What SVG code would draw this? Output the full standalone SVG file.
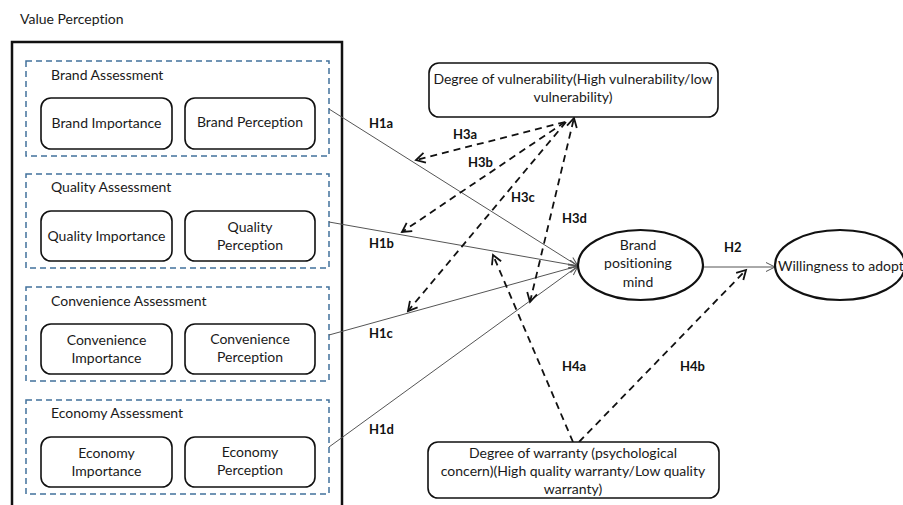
<svg xmlns="http://www.w3.org/2000/svg" width="903" height="505" viewBox="0 0 903 505">
<defs>
<style>
text{font-family:Lato,"Liberation Sans",Arial,sans-serif;font-size:14px;fill:#1a1a1a;font-variant-ligatures:none}
.t{text-anchor:middle}
.lab{font-weight:bold;font-size:13px;fill:#111}
.grp{fill:none;stroke:#41719c;stroke-width:1.5;stroke-dasharray:6,4}
.box{fill:#fff;stroke:#111;stroke-width:1.6}
.sol{stroke:#555;stroke-width:1;fill:none}
.dsh{stroke:#111;stroke-width:1.8;stroke-dasharray:7,5;fill:none}
.ell{fill:#fff;stroke:#111;stroke-width:2.2}
</style>
<marker id="ah" markerUnits="userSpaceOnUse" markerWidth="12" markerHeight="12" refX="10" refY="5" orient="auto">
<path d="M1,0.5 L10,5 L1,9.5" fill="none" stroke="#555" stroke-width="1"/>
</marker>
<marker id="ad" markerUnits="userSpaceOnUse" markerWidth="14" markerHeight="14" refX="10" refY="6" orient="auto-start-reverse">
<path d="M1,1 L10,6 L1,11" fill="none" stroke="#111" stroke-width="1.8"/>
</marker>
</defs>
<rect width="903" height="505" fill="#fff"/>

<text x="20" y="24">Value Perception</text>

<g id="value-perception">
<rect x="12" y="42" width="330" height="470" fill="none" stroke="#111" stroke-width="2.5"/>
</g>

<g id="brand-assessment">
<rect class="grp" x="26" y="61" width="303" height="95"/>
<text x="51" y="80">Brand  Assessment</text>
</g>
<g id="brand-importance">
<rect class="box" x="41" y="98" width="131" height="51" rx="10"/>
<text class="t" x="106.5" y="128">Brand Importance</text>
</g>
<g id="brand-perception">
<rect class="box" x="185" y="98" width="130" height="51" rx="10"/>
<text class="t" x="250" y="127">Brand Perception</text>
</g>

<g id="quality-assessment">
<rect class="grp" x="26" y="174" width="303" height="94"/>
<text x="51" y="192">Quality Assessment</text>
</g>
<g id="quality-importance">
<rect class="box" x="41" y="211" width="131" height="50" rx="10"/>
<text class="t" x="106.5" y="241">Quality Importance</text>
</g>
<g id="quality-perception">
<rect class="box" x="185" y="211" width="130" height="50" rx="10"/>
<text class="t" x="250" y="232">Quality</text>
<text class="t" x="250" y="250">Perception</text>
</g>

<g id="convenience-assessment">
<rect class="grp" x="26" y="287" width="303" height="94"/>
<text x="51" y="306">Convenience Assessment</text>
</g>
<g id="convenience-importance">
<rect class="box" x="41" y="324" width="131" height="50" rx="10"/>
<text class="t" x="106.5" y="345">Convenience</text>
<text class="t" x="106.5" y="363">Importance</text>
</g>
<g id="convenience-perception">
<rect class="box" x="185" y="324" width="130" height="50" rx="10"/>
<text class="t" x="250" y="344">Convenience</text>
<text class="t" x="250" y="362">Perception</text>
</g>

<g id="economy-assessment">
<rect class="grp" x="26" y="400" width="303" height="94"/>
<text x="51" y="418">Economy Assessment</text>
</g>
<g id="economy-importance">
<rect class="box" x="41" y="437" width="131" height="50" rx="10"/>
<text class="t" x="106.5" y="458">Economy</text>
<text class="t" x="106.5" y="476">Importance</text>
</g>
<g id="economy-perception">
<rect class="box" x="185" y="437" width="130" height="50" rx="10"/>
<text class="t" x="250" y="457">Economy</text>
<text class="t" x="250" y="475">Perception</text>
</g>

<g id="connectors">
<line class="sol" x1="329" y1="109" x2="578" y2="266" marker-end="url(#ah)"/>
<line class="sol" x1="329" y1="222" x2="578" y2="266" marker-end="url(#ah)"/>
<line class="sol" x1="329" y1="335" x2="578" y2="266" marker-end="url(#ah)"/>
<line class="sol" x1="329" y1="447" x2="578" y2="266" marker-end="url(#ah)"/>
<line class="sol" x1="703" y1="267" x2="775" y2="267" marker-end="url(#ah)"/>
<line class="dsh" x1="565" y1="122" x2="416" y2="160" marker-end="url(#ad)"/>
<line class="dsh" x1="565" y1="122" x2="402" y2="232" marker-end="url(#ad)"/>
<line class="dsh" x1="566" y1="122" x2="408" y2="311" marker-end="url(#ad)"/>
<line class="dsh" x1="530" y1="302" x2="574" y2="118" marker-start="url(#ad)" marker-end="url(#ad)"/>
<line class="dsh" x1="573" y1="442" x2="493" y2="255" marker-end="url(#ad)"/>
<line class="dsh" x1="579" y1="442" x2="746" y2="270" marker-end="url(#ad)"/>
<text class="lab" x="369" y="128">H1a</text>
<text class="lab" x="369" y="248">H1b</text>
<text class="lab" x="369" y="338">H1c</text>
<text class="lab" x="369" y="434">H1d</text>
<text class="lab" x="724" y="252">H2</text>
<text class="lab" x="453" y="139">H3a</text>
<text class="lab" x="468" y="167">H3b</text>
<text class="lab" x="511" y="202">H3c</text>
<text class="lab" x="562" y="223">H3d</text>
<text class="lab" x="562" y="371">H4a</text>
<text class="lab" x="680" y="371">H4b</text>
</g>

<g id="vulnerability">
<rect class="box" x="429" y="63" width="289" height="54" rx="10"/>
<text class="t" x="573" y="84">Degree of vulnerability(High vulnerability/low</text>
<text class="t" x="573" y="102">vulnerability)</text>
</g>

<g id="brand-positioning">
<ellipse class="ell" cx="640.5" cy="265" rx="62.5" ry="35"/>
<text class="t" x="638" y="250">Brand</text>
<text class="t" x="638" y="268">positioning</text>
<text class="t" x="638" y="287">mind</text>
</g>

<g id="willingness">
<ellipse class="ell" cx="840" cy="265" rx="65" ry="35"/>
<text x="778" y="271">Willingness to adopt</text>
</g>

<g id="warranty">
<rect class="box" x="428" y="442" width="291" height="56" rx="10"/>
<text class="t" x="573" y="458">Degree of warranty (psychological</text>
<text class="t" x="573" y="476">concern)(High quality warranty/Low quality</text>
<text class="t" x="573" y="494">warranty)</text>
</g>
</svg>
